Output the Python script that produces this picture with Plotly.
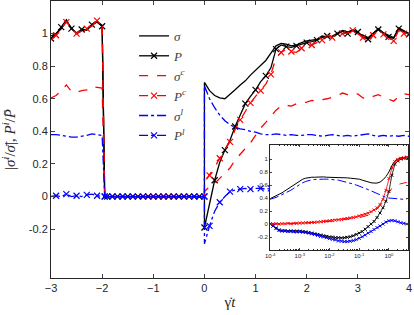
import numpy as np
import plotly.graph_objects as go

# ---------------- main panel data ----------------
# time grid: pre-shear (-3..-2), drop, rest (-1.9..-0.1), 0 (before jump), 0..4 after restart
T_PRE = [-3.0, -2.9, -2.8, -2.7, -2.6, -2.5, -2.4, -2.3, -2.2, -2.1, -2.0]
T_GAP = [-1.95, -1.9, -1.8, -1.7, -1.6, -1.5, -1.4, -1.3, -1.2, -1.1, -1.0,
         -0.9, -0.8, -0.7, -0.6, -0.5, -0.4, -0.3, -0.2, -0.1, 0.0]
T_POST = [0.0, 0.1, 0.2, 0.3, 0.4, 0.5, 0.6, 0.7, 0.8, 0.9, 1.0,
          1.1, 1.2, 1.3, 1.4, 1.5, 1.6, 1.7, 1.8, 1.9, 2.0,
          2.1, 2.2, 2.3, 2.4, 2.5, 2.6, 2.7, 2.8, 2.9, 3.0,
          3.1, 3.2, 3.3, 3.4, 3.5, 3.6, 3.7, 3.8, 3.9, 4.0]

GAP_ZERO = [0.0, 0.0, 0.0, 0.0, 0.0, 0.0, 0.0, 0.0, 0.0, 0.0, 0.0,
            0.0, 0.0, 0.0, 0.0, 0.0, 0.0, 0.0, 0.0, 0.0, 0.0]

SIGMA_PRE = [0.985, 1.0, 1.03, 1.075, 1.035, 1.0, 1.02, 1.025, 1.05, 1.075, 1.05]
SIGMA_POST = [0.70, 0.65, 0.62, 0.605, 0.60, 0.625, 0.655, 0.685, 0.71, 0.745, 0.775,
              0.80, 0.835, 0.88, 0.925, 0.94, 0.935, 0.925, 0.93, 0.945, 0.955,
              0.96, 0.965, 0.985, 0.98, 0.985, 1.005, 1.02, 1.01, 1.02, 1.0,
              0.99, 0.975, 1.005, 1.03, 1.005, 0.99, 0.975, 1.035, 1.015, 1.0]

P_PRE = [0.97, 1.0, 1.04, 1.085, 1.03, 1.005, 1.025, 1.02, 1.055, 1.07, 1.045]
P_POST = [-0.19, -0.04, 0.10, 0.21, 0.285, 0.345, 0.43, 0.50, 0.57, 0.615, 0.655,
          0.705, 0.74, 0.79, 0.905, 0.93, 0.92, 0.915, 0.925, 0.935, 0.945,
          0.95, 0.96, 0.975, 0.985, 0.98, 1.0, 1.015, 1.0, 1.02, 1.01,
          0.98, 0.965, 1.0, 1.025, 1.0, 0.98, 0.97, 1.03, 1.01, 0.995]

SIGC_PRE = [0.605, 0.62, 0.65, 0.685, 0.645, 0.64, 0.65, 0.655, 0.675, 0.67, 0.665]
SIGC_POST = [0.03, 0.06, 0.08, 0.11, 0.145, 0.175, 0.225, 0.26, 0.295, 0.33, 0.375,
             0.42, 0.455, 0.49, 0.53, 0.555, 0.56, 0.555, 0.57, 0.575, 0.58,
             0.59, 0.585, 0.595, 0.60, 0.61, 0.62, 0.635, 0.625, 0.62, 0.63,
             0.605, 0.60, 0.615, 0.625, 0.61, 0.595, 0.585, 0.615, 0.63, 0.625]

PC_PRE = [0.96, 0.99, 1.03, 1.07, 1.04, 1.0, 1.015, 1.03, 1.045, 1.08, 1.06]
PC_POST = [0.087, 0.13, 0.18, 0.235, 0.29, 0.335, 0.41, 0.47, 0.52, 0.575, 0.615,
           0.65, 0.69, 0.75, 0.85, 0.885, 0.905, 0.89, 0.885, 0.91, 0.925,
           0.93, 0.945, 0.96, 0.99, 0.975, 0.99, 1.0, 1.005, 1.02, 1.0,
           0.975, 0.945, 0.99, 1.02, 0.995, 0.965, 0.955, 1.02, 1.0, 0.99]

SIGL_PRE = [0.38, 0.38, 0.375, 0.37, 0.365, 0.365, 0.37, 0.375, 0.385, 0.38, 0.375]
SIGL_POST = [0.68, 0.60, 0.545, 0.50, 0.465, 0.44, 0.425, 0.415, 0.41, 0.40, 0.395,
             0.385, 0.38, 0.38, 0.385, 0.38, 0.375, 0.38, 0.375, 0.375, 0.38,
             0.38, 0.375, 0.37, 0.375, 0.38, 0.375, 0.37, 0.375, 0.37, 0.375,
             0.38, 0.385, 0.375, 0.37, 0.375, 0.37, 0.375, 0.37, 0.375, 0.37]

PL_PRE = [0.0, 0.005, 0.0, 0.015, 0.0, 0.005, 0.0, 0.01, 0.015, 0.005, 0.0]
PL_POST = [-0.29, -0.18, -0.09, -0.035, 0.0, 0.03, 0.04, 0.045, 0.05, 0.045, 0.05,
           0.05, 0.045, 0.05, 0.055, 0.05, 0.045, 0.05, 0.05, 0.045, 0.05,
           0.055, 0.05, 0.045, 0.05, 0.05, 0.055, 0.05, 0.045, 0.05, 0.05,
           0.045, 0.05, 0.055, 0.05, 0.045, 0.05, 0.05, 0.045, 0.05, 0.05]

# ---------------- inset data (log10 of strain) ----------------
LOG_T_INSET = [-4.0, -3.9, -3.8, -3.7, -3.6, -3.5, -3.4, -3.3, -3.2, -3.1, -3.0,
               -2.9, -2.8, -2.7, -2.6, -2.5, -2.4, -2.3, -2.2, -2.1, -2.0,
               -1.9, -1.8, -1.7, -1.6, -1.5, -1.4, -1.3, -1.2, -1.1, -1.0,
               -0.9, -0.8, -0.7, -0.6, -0.5, -0.4, -0.3, -0.2, -0.1, 0.0,
               0.1, 0.2, 0.3, 0.4, 0.5, 0.6]
SIGMA_IN = [0.39, 0.41, 0.43, 0.455, 0.48, 0.51, 0.54, 0.57, 0.60, 0.635, 0.665,
            0.69, 0.705, 0.715, 0.72, 0.72, 0.725, 0.72, 0.725, 0.72, 0.72,
            0.72, 0.72, 0.715, 0.715, 0.71, 0.71, 0.705, 0.70, 0.705, 0.69,
            0.675, 0.66, 0.645, 0.635, 0.63, 0.63, 0.645, 0.68, 0.73, 0.80,
            0.90, 0.97, 1.0, 1.02, 1.02, 1.03]
P_IN = [0.0, -0.03, -0.06, -0.09, -0.10, -0.10, -0.11, -0.105, -0.11, -0.11, -0.11,
        -0.115, -0.12, -0.13, -0.14, -0.15, -0.16, -0.17, -0.18, -0.19, -0.20,
        -0.20, -0.21, -0.21, -0.215, -0.21, -0.205, -0.195, -0.18, -0.16, -0.14,
        -0.115, -0.08, -0.04, 0.0, 0.04, 0.10, 0.17, 0.25, 0.35, 0.50,
        0.75, 0.92, 0.97, 1.0, 1.01, 1.02]
SIGC_IN = [0.0, 0.0, 0.0, 0.005, 0.005, 0.005, 0.01, 0.01, 0.01, 0.015, 0.015,
           0.02, 0.02, 0.02, 0.025, 0.025, 0.03, 0.03, 0.035, 0.04, 0.04,
           0.045, 0.05, 0.055, 0.06, 0.065, 0.07, 0.075, 0.08, 0.09, 0.10,
           0.11, 0.12, 0.135, 0.16, 0.19, 0.23, 0.28, 0.34, 0.42, 0.49,
           0.55, 0.59, 0.61, 0.62, 0.63, 0.64]
PC_IN = [0.0, 0.0, 0.005, 0.0, 0.005, 0.005, 0.01, 0.005, 0.01, 0.01, 0.015,
         0.015, 0.02, 0.02, 0.025, 0.025, 0.03, 0.035, 0.04, 0.045, 0.05,
         0.055, 0.06, 0.065, 0.07, 0.08, 0.085, 0.095, 0.10, 0.11, 0.125,
         0.135, 0.15, 0.165, 0.19, 0.215, 0.25, 0.30, 0.38, 0.52, 0.70,
         0.86, 0.96, 0.99, 1.01, 1.02, 1.03]
SIGL_IN = [0.38, 0.39, 0.41, 0.43, 0.45, 0.47, 0.49, 0.52, 0.55, 0.58, 0.61,
           0.635, 0.655, 0.67, 0.68, 0.685, 0.69, 0.69, 0.69, 0.69, 0.69,
           0.685, 0.68, 0.675, 0.665, 0.655, 0.645, 0.63, 0.615, 0.60, 0.585,
           0.565, 0.55, 0.53, 0.51, 0.49, 0.47, 0.445, 0.425, 0.41, 0.40,
           0.395, 0.39, 0.385, 0.385, 0.38, 0.385]
PL_IN = [0.0, -0.03, -0.07, -0.10, -0.11, -0.11, -0.115, -0.115, -0.12, -0.12, -0.12,
         -0.125, -0.13, -0.14, -0.15, -0.16, -0.175, -0.19, -0.20, -0.21, -0.225,
         -0.235, -0.245, -0.26, -0.265, -0.27, -0.27, -0.265, -0.255, -0.24, -0.22,
         -0.195, -0.17, -0.14, -0.115, -0.085, -0.055, -0.03, 0.0, 0.03, 0.05,
         0.055, 0.05, 0.035, 0.02, 0.01, 0.0]

X_TICKS = [-3, -2, -1, 0, 1, 2, 3, 4]
Y_TICKS = [-0.2, 0, 0.2, 0.4, 0.6, 0.8, 1]
Y_TICK_TEXT = ["-0.2", "0", "0.2", "0.4", "0.6", "0.8", "1"]
IN_X_TICKS = [1e-4, 1e-3, 1e-2, 1e-1, 1]
IN_X_TEXT = ["10<sup>-4</sup>", "10<sup>-3</sup>", "10<sup>-2</sup>", "10<sup>-1</sup>", "10<sup>0</sup>"]

LABELS = ["<i>σ</i>", "<i>P</i>", "<i>σ</i><sup><i>c</i></sup>", "<i>P</i><sup><i>c</i></sup>",
          "<i>σ</i><sup><i>l</i></sup>", "<i>P</i><sup><i>l</i></sup>"]

# ---------------- build ----------------
t_main = T_PRE + T_GAP + T_POST
x_in = [10 ** v for v in LOG_T_INSET]

BLACK, RED, BLUE = "#000000", "#ff0000", "#0000ff"
series = [
    (SIGMA_PRE + GAP_ZERO + SIGMA_POST, SIGMA_IN, BLACK, "solid", False),
    (P_PRE + GAP_ZERO + P_POST, P_IN, BLACK, "solid", True),
    (SIGC_PRE + GAP_ZERO + SIGC_POST, SIGC_IN, RED, "dash", False),
    (PC_PRE + GAP_ZERO + PC_POST, PC_IN, RED, "dash", True),
    (SIGL_PRE + GAP_ZERO + SIGL_POST, SIGL_IN, BLUE, "dashdot", False),
    (PL_PRE + GAP_ZERO + PL_POST, PL_IN, BLUE, "dashdot", True),
]

fig = go.Figure()
for (ymain, yin, col, dash, mk), lab in zip(series, LABELS):
    fig.add_trace(go.Scatter(
        x=t_main, y=ymain, name=lab,
        mode="lines+markers" if mk else "lines",
        line=dict(color=col, width=1.3, dash=dash),
        marker=dict(symbol="x-thin", size=6, color=col,
                    line=dict(color=col, width=1.2), maxdisplayed=40),
        xaxis="x", yaxis="y"))
for (ymain, yin, col, dash, mk), lab in zip(series, LABELS):
    fig.add_trace(go.Scatter(
        x=x_in, y=yin, name=lab, showlegend=False,
        mode="lines+markers" if mk else "lines",
        line=dict(color=col, width=1.0 if not mk else 0.8, dash=dash if not mk else "solid"),
        marker=dict(symbol="x-thin", size=3, color=col,
                    line=dict(color=col, width=1)),
        xaxis="x2", yaxis="y2"))

axcol = "#262626"
tickfont = dict(family="Liberation Sans, Arial, sans-serif", size=11, color=axcol)
small = dict(family="Liberation Sans, Arial, sans-serif", size=6, color=axcol)

fig.update_layout(
    width=414, height=315,
    margin=dict(l=51, r=5, t=1, b=37),
    paper_bgcolor="white", plot_bgcolor="white",
    showlegend=True,
    legend=dict(x=0.232, y=0.928, xanchor="left", yanchor="top",
                bgcolor="rgba(0,0,0,0)", itemwidth=30,
                font=dict(family="Liberation Serif, serif", size=13, color="#404040")),
    xaxis=dict(range=[-3, 4], tickvals=X_TICKS, ticks="inside", ticklen=4,
               mirror="ticks", showline=True, linecolor=axcol, linewidth=1,
               showgrid=False, zeroline=False, tickfont=tickfont, automargin=False,
               title=dict(text="γ̇<i>t</i>", standoff=3,
                          font=dict(family="Liberation Serif, serif", size=15, color=axcol))),
    yaxis=dict(range=[-0.5, 1.2], tickvals=Y_TICKS, ticktext=Y_TICK_TEXT,
               ticks="inside", ticklen=4, mirror="ticks", showline=True,
               linecolor=axcol, linewidth=1, showgrid=False, zeroline=False,
               tickfont=tickfont, automargin=False,
               title=dict(text="|<i>σ</i><sup><i>i</i></sup>/<i>σ̄</i>|, <i>P</i><sup><i>i</i></sup>/<i>P̄</i>",
                          standoff=14,
                          font=dict(family="Liberation Serif, serif", size=15, color=axcol))),
    xaxis2=dict(type="log", range=[-4, 0.64], domain=[0.612, 0.997], anchor="y2",
                tickvals=IN_X_TICKS, ticktext=IN_X_TEXT, ticks="inside", ticklen=2,
                mirror="ticks", showline=True, linecolor=axcol, linewidth=1,
                showgrid=False, zeroline=False, tickfont=small, automargin=False,
                minor=dict(ticks="inside", ticklen=1, dtick="D1", tickcolor=axcol)),
    yaxis2=dict(range=[-0.4, 1.215], domain=[0.101, 0.48], anchor="x2",
                tickvals=Y_TICKS, ticktext=Y_TICK_TEXT, ticks="inside", ticklen=2,
                mirror="ticks", showline=True, linecolor=axcol, linewidth=1,
                showgrid=False, zeroline=False, tickfont=small, automargin=False),
)

fig.write_html("out.html", config={"displayModeBar": False},
               post_script="document.body.style.margin='0';document.body.style.overflow='hidden';")
